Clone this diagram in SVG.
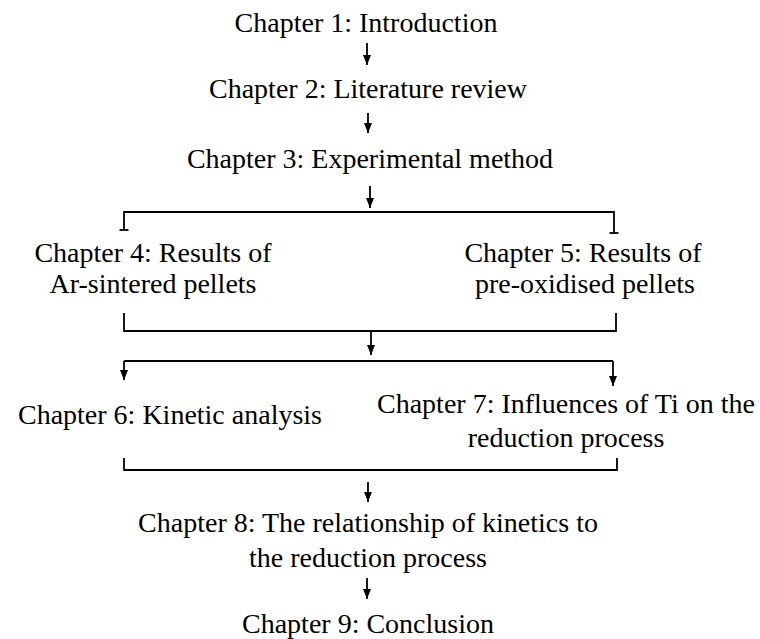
<svg xmlns="http://www.w3.org/2000/svg" width="760" height="639" viewBox="0 0 760 639">
<defs>
<marker id="arr" markerUnits="userSpaceOnUse" markerWidth="10" markerHeight="8" refX="10" refY="4" orient="auto">
<path d="M0,0 L10,4 L0,8 z" fill="#000"/>
</marker>
</defs>
<style>
text{font-size:28px;fill:#000;text-anchor:middle}
.c line,.c path{stroke:#000;stroke-width:1.8;fill:none}
.a{marker-end:url(#arr)}
</style>
<rect width="760" height="639" fill="#fff"/>
<g font-family="'Liberation Serif', 'Times New Roman', 'DejaVu Serif', serif">
<g id="ch1"><text x="366" y="32">Chapter 1: Introduction</text></g>
<g id="ch2"><text x="368" y="98">Chapter 2: Literature review</text></g>
<g id="ch3"><text x="370" y="168">Chapter 3: Experimental method</text></g>
<g id="ch4"><text x="153" y="262">Chapter 4: Results of</text><text x="153" y="293">Ar-sintered pellets</text></g>
<g id="ch5"><text x="583" y="262">Chapter 5: Results of</text><text x="585" y="293">pre-oxidised pellets</text></g>
<g id="ch6"><text x="170" y="424">Chapter 6: Kinetic analysis</text></g>
<g id="ch7"><text x="566" y="413">Chapter 7: Influences of Ti on the</text><text x="566" y="447">reduction process</text></g>
<g id="ch8"><text x="368" y="532">Chapter 8: The relationship of kinetics to</text><text x="368" y="567">the reduction process</text></g>
<g id="ch9"><text x="368" y="633">Chapter 9: Conclusion</text></g>
</g>
<g id="connectors" class="c">
<line class="a" x1="367" y1="43" x2="367" y2="65"/>
<line class="a" x1="368" y1="113" x2="368" y2="133"/>
<line class="a" x1="370" y1="186" x2="370" y2="208"/>
<path d="M124,230 L124,212 L614,212 L614,233"/>
<line x1="119.5" y1="230" x2="128.5" y2="230"/>
<line x1="609.5" y1="233" x2="618.5" y2="233"/>
<path d="M124,313 L124,331 L616,331 L616,313"/>
<line class="a" x1="371" y1="331" x2="371" y2="355"/>
<path d="M124,361 L613,361"/>
<line class="a" x1="124" y1="361" x2="124" y2="380"/>
<line class="a" x1="613" y1="361" x2="613" y2="386"/>
<path d="M124,458 L124,470 L617,470 L617,458"/>
<line class="a" x1="368" y1="482" x2="368" y2="502"/>
<line class="a" x1="367" y1="578" x2="367" y2="599"/>
</g>
</svg>
